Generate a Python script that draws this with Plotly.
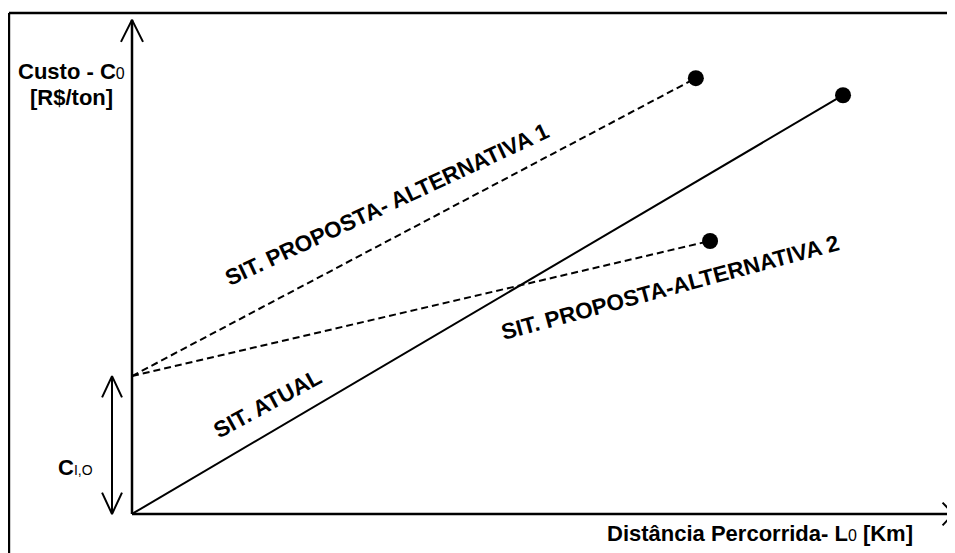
import plotly.graph_objects as go

# ---- data (arbitrary schematic units) ----
dist_atual = [0, 100.0]
custo_atual = [0, 58.9]
dist_alt1 = [0, 79.3]
custo_alt1 = [19.4, 61.3]
dist_alt2 = [0, 81.3]
custo_alt2 = [19.4, 38.4]
c_io = 19.4

# page has an 8px body margin, so the figure is 947x545 and ranges are offset
x_range = [-17.44, 115.75]
y_range = [-5.49, 71.17]

ink = "#000000"
fig = go.Figure()

# axes (as lines) with open chevron arrowheads
x_tip = 115.5
y_tip = 69.5
fig.add_trace(go.Scatter(x=[0, x_tip], y=[0, 0], mode="lines",
                         line=dict(color=ink, width=2.5), hoverinfo="skip"))
fig.add_trace(go.Scatter(x=[0, 0], y=[0, y_tip], mode="lines",
                         line=dict(color=ink, width=2.5), hoverinfo="skip"))
fig.add_trace(go.Scatter(x=[x_tip - 1.5, x_tip, x_tip - 1.5], y=[1.6, 0, -1.6],
                         mode="lines", line=dict(color=ink, width=2), hoverinfo="skip"))
fig.add_trace(go.Scatter(x=[-1.55, 0, 1.55], y=[y_tip - 3.1, y_tip, y_tip - 3.1],
                         mode="lines", line=dict(color=ink, width=2), hoverinfo="skip"))

# double arrow for C_I,O
xa = -2.81
fig.add_trace(go.Scatter(x=[xa, xa], y=[0, c_io], mode="lines",
                         line=dict(color=ink, width=2), hoverinfo="skip"))
fig.add_trace(go.Scatter(x=[xa - 1.4, xa, xa + 1.4], y=[c_io - 3.0, c_io, c_io - 3.0],
                         mode="lines", line=dict(color=ink, width=2), hoverinfo="skip"))
fig.add_trace(go.Scatter(x=[xa - 1.4, xa, xa + 1.4], y=[3.0, 0, 3.0],
                         mode="lines", line=dict(color=ink, width=2), hoverinfo="skip"))

# series lines
fig.add_trace(go.Scatter(x=dist_atual, y=custo_atual, mode="lines",
                         line=dict(color=ink, width=2), hoverinfo="skip"))
fig.add_trace(go.Scatter(x=dist_alt1, y=custo_alt1, mode="lines",
                         line=dict(color=ink, width=2, dash="7px,4px"), hoverinfo="skip"))
fig.add_trace(go.Scatter(x=dist_alt2, y=custo_alt2, mode="lines",
                         line=dict(color=ink, width=2, dash="7px,4px"), hoverinfo="skip"))
# end dots
fig.add_trace(go.Scatter(x=[dist_atual[1], dist_alt1[1], dist_alt2[1]],
                         y=[custo_atual[1], custo_alt1[1], custo_alt2[1]],
                         mode="markers", marker=dict(color=ink, size=16), hoverinfo="skip"))

lab_font = dict(family="Liberation Sans, Arial", size=22.5, color=ink, weight="bold")
bold_font = dict(family="Liberation Sans, Arial", size=22, color=ink, weight="bold")

ann = [
    dict(x=35.9, y=43.5, text="SIT. PROPOSTA- ALTERNATIVA 1", textangle=-25, font=lab_font),
    dict(x=75.8, y=31.8, text="SIT. PROPOSTA-ALTERNATIVA 2", textangle=-15, font=lab_font),
    dict(x=19.1, y=15.6, text="SIT. ATUAL", textangle=-28.6, font=lab_font),
    dict(x=-8.58, y=62.3, text="Custo - C<span style='font-size:16px;font-weight:normal'>0</span>", font=bold_font),
    dict(x=-8.58, y=58.6, text="[R$/ton]", font=bold_font),
    dict(x=88.3, y=-2.81, text="Distância Percorrida- L<span style='font-size:16px;font-weight:normal'>0</span> [Km]", font=bold_font),
    dict(x=-8.0, y=6.6, text="C<span style='font-size:14px;font-weight:normal'>I,O</span>", font=bold_font),
]
for a in ann:
    a.update(xref="x", yref="y", showarrow=False, xanchor="center", yanchor="middle")
    fig.add_annotation(**a)

# frame (top and left edges)
fig.add_shape(type="line", xref="paper", yref="paper", x0=0.001, x1=1, y0=1-5/545, y1=1-5/545,
              line=dict(color=ink, width=2.5))
fig.add_shape(type="line", xref="paper", yref="paper", x0=0.001, x1=0.001, y0=0, y1=1-5/545,
              line=dict(color=ink, width=2.5))

fig.update_layout(
    width=947, height=545,
    margin=dict(l=0, r=0, t=0, b=0),
    paper_bgcolor="white", plot_bgcolor="white",
    showlegend=False,
    xaxis=dict(range=x_range, visible=False, fixedrange=True),
    yaxis=dict(range=y_range, visible=False, fixedrange=True),
)
fig.write_html("out.html")
